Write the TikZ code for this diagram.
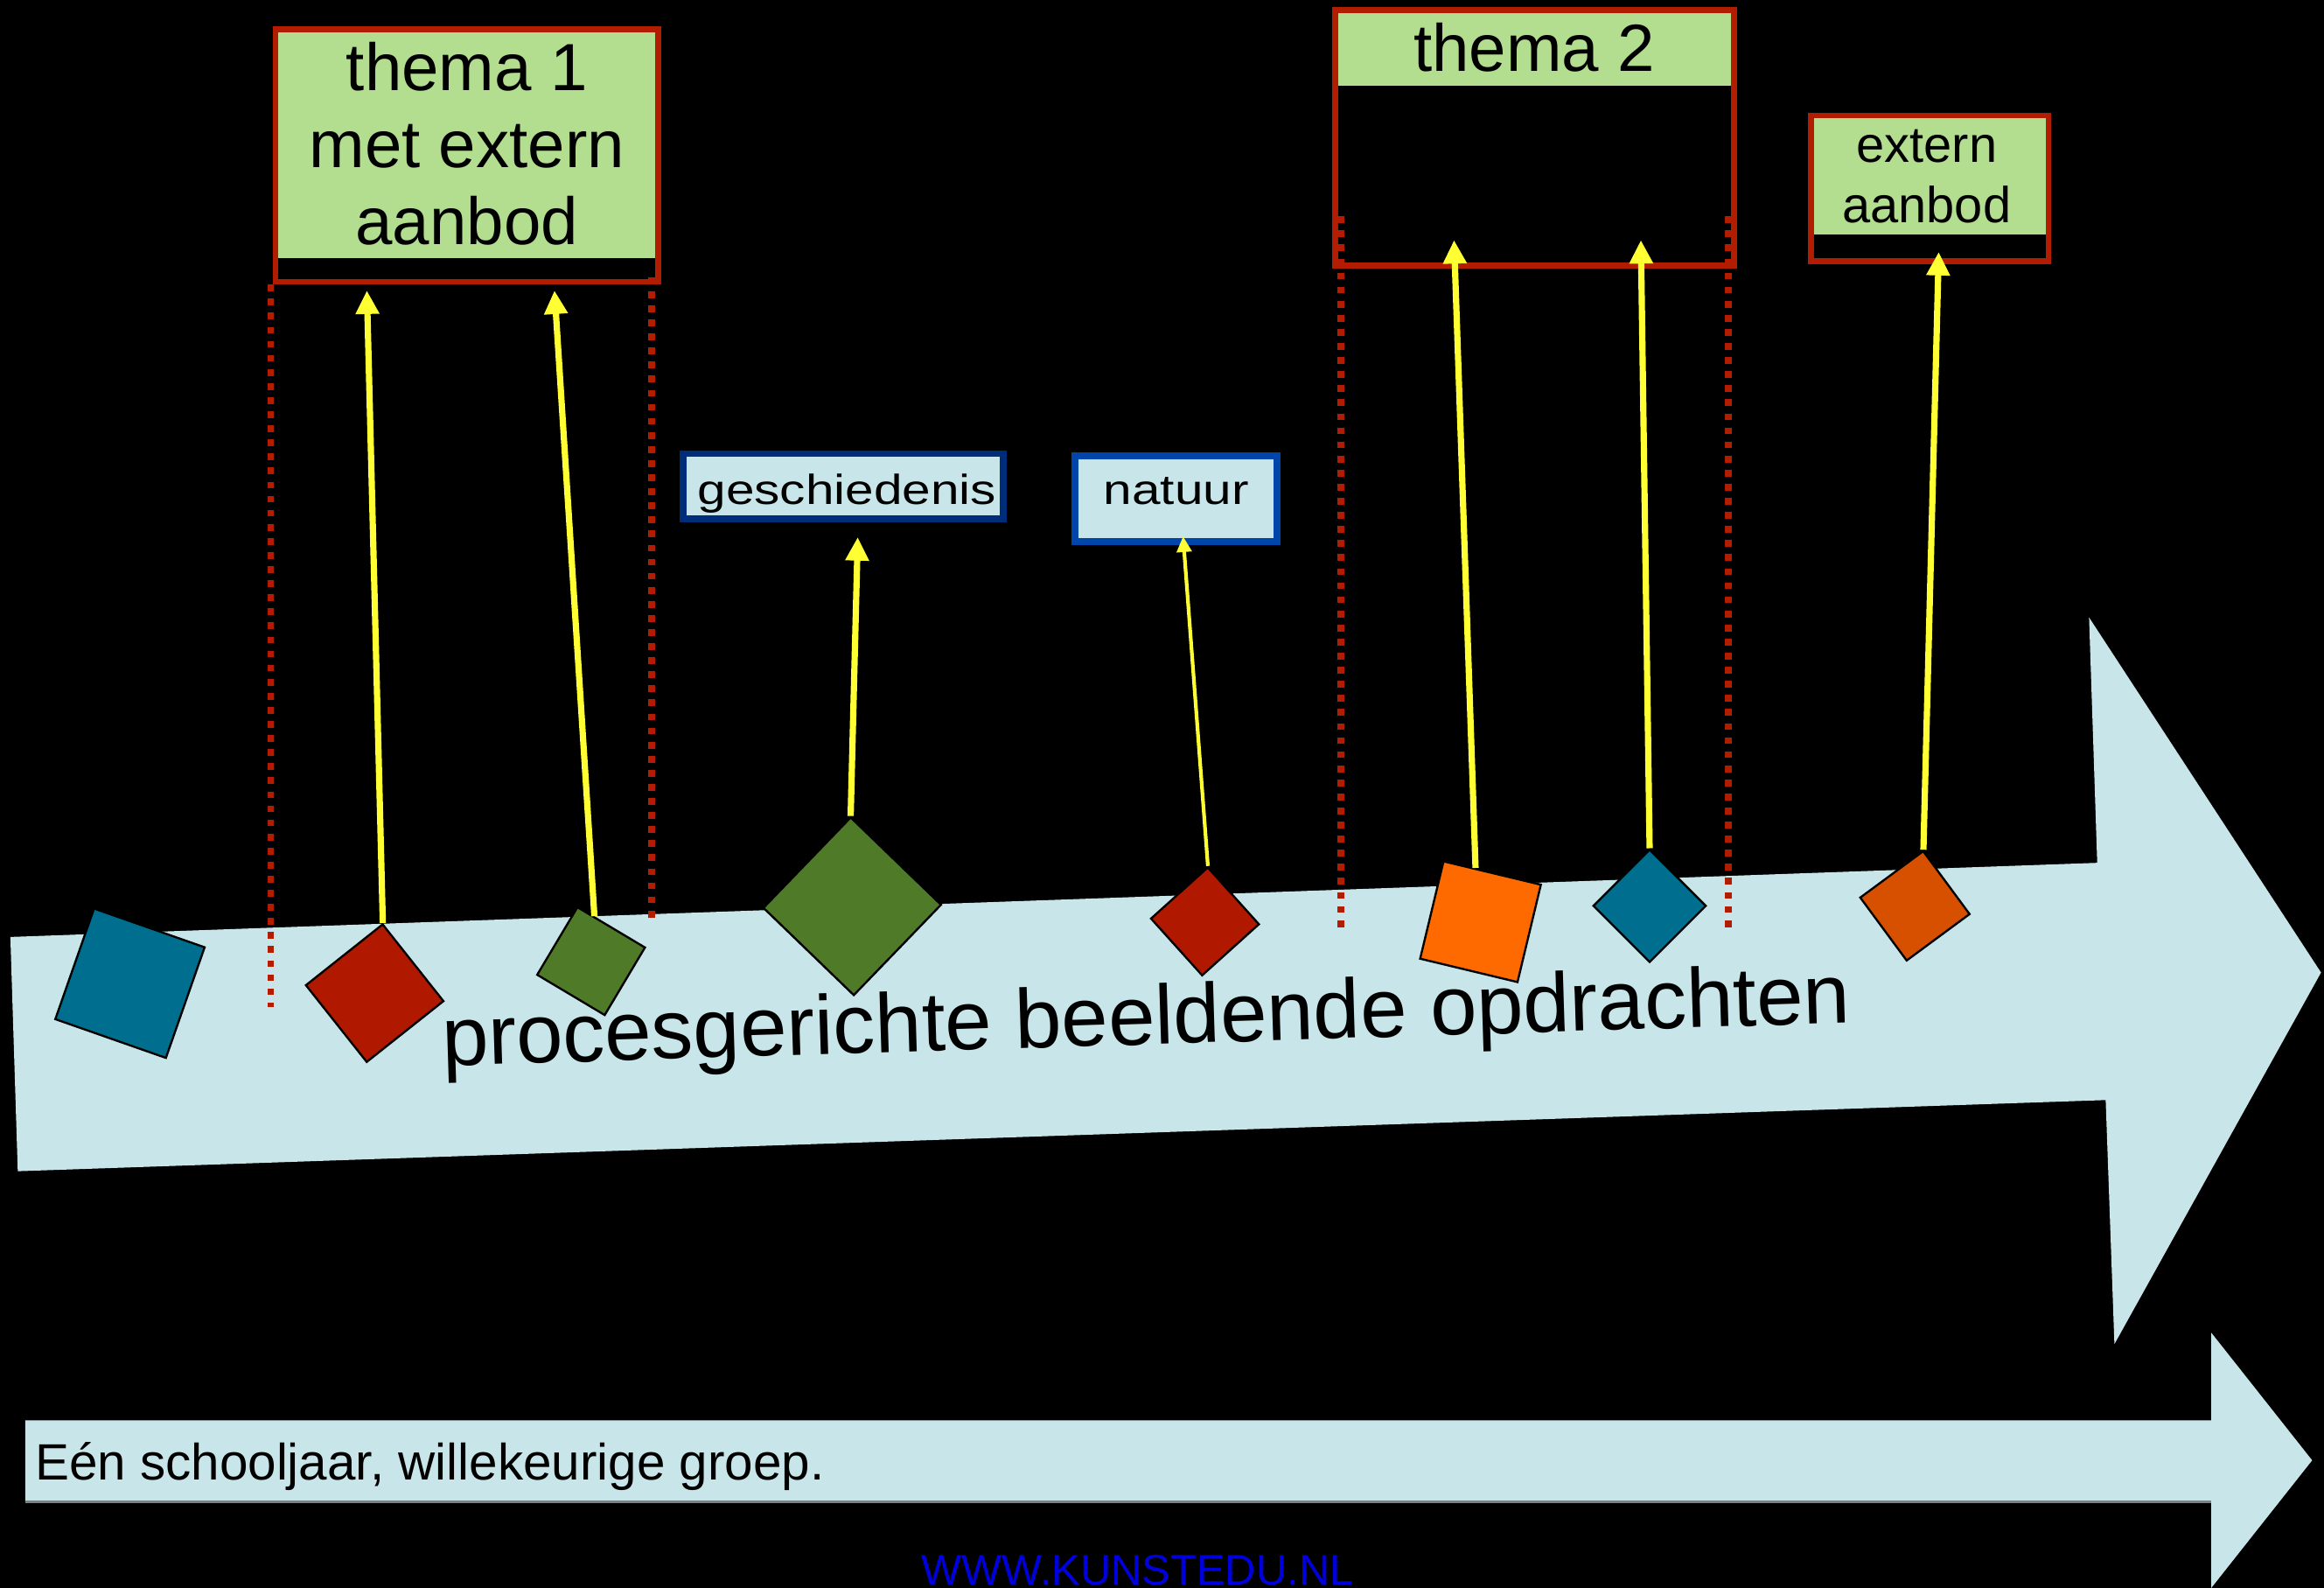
\documentclass[tikz,border=0pt]{standalone}
\usepackage{fontspec}
\setmainfont{Liberation Sans}
\newfontfamily\breed[FakeStretch=1.22]{Liberation Sans}
\usetikzlibrary{arrows.meta,calc}

\definecolor{lichtblauw}{HTML}{C8E6E9}
\definecolor{lichtgroen}{HTML}{B3DE8F}
\definecolor{kaderrood}{HTML}{B21C00}
\definecolor{navy}{HTML}{002D7A}
\definecolor{koningsblauw}{HTML}{0046AA}
\definecolor{petrol}{HTML}{006E8E}
\definecolor{steenrood}{HTML}{B01800}
\definecolor{mosgroen}{HTML}{4F7A28}
\definecolor{oranje}{HTML}{FF6A00}
\definecolor{roestoranje}{HTML}{D65000}
\definecolor{geel}{HTML}{FFFF33}
\definecolor{linkblauw}{HTML}{0000DD}

\tikzset{
  vierkant/.style={draw=black, line width=0.4pt, inner sep=0pt, minimum size=#1},
  themakader/.style={draw=kaderrood, line width=1.1pt, inner sep=0pt,
    path picture={\fill[lichtgroen] (path picture bounding box.north west)
      rectangle ([yshift=#1]path picture bounding box.south east);}},
  vakkader/.style={draw=#1, line width=1.3pt, fill=lichtblauw, inner sep=0pt},
  pijl/.style={draw=geel, line width=1.2pt, -{Triangle[width=4.3pt,length=4.5pt]}},
  stippel/.style={draw=kaderrood, line width=1.3pt, dash pattern=on 1.3pt off 1.4pt},
}

\begin{document}
\begin{tikzpicture}[x=0.01cm,y=-0.01cm]
\useasboundingbox (0,0) rectangle (1568,1071);
\fill[black] (0,0) rectangle (1568,1071);

% Big arrow and year arrow
\fill[lichtblauw] (7,632) -- (1415,582) -- (1409.5,416.5) -- (1566,656)
  -- (1426.6,906.6) -- (1420.7,742) -- (12,790) -- cycle;
\fill[lichtblauw] (17,958) -- (1492,958) -- (1492,899) -- (1560,985)
  -- (1492,1071) -- (1492,1013) -- (17,1013) -- cycle;
\draw[gray, line width=0.5pt] (17,1013) -- (1492,1013);

% Theme boxes
\node[themakader=0.16cm, minimum width=2.58cm, minimum height=1.70cm] (thema1) at (315,105) {};
\node[themakader=1.21cm, minimum width=2.69cm, minimum height=1.72cm] (thema2) at (1035.5,93) {};
\node[themakader=0.18cm, minimum width=1.60cm, minimum height=0.98cm] (extern) at (1302,127) {};
\node[vakkader=navy, minimum width=2.16cm, minimum height=0.44cm] (geschiedenis) at (569,328) {};
\node[vakkader=koningsblauw, minimum width=1.36cm, minimum height=0.58cm] (natuur) at (793.5,336.5) {};

% Dotted borders of the themes
\draw[stippel] ([xshift=-0.013cm]thema1.south west) -- ++(0,487);
\draw[stippel] ([xshift=-0.065cm,yshift=0.05cm]thema1.south east) -- ++(0,434);
\draw[stippel] ([xshift=0.057cm,yshift=0.35cm]thema2.south west) -- ++(0,484);
\draw[stippel] ([xshift=-0.06cm,yshift=0.35cm]thema2.south east) -- ++(0,482);

% Labels
\node[font=\fontsize{12.8}{14.8}\selectfont, align=center] (thema1tekst) at (315,97) {thema 1\\met extern\\aanbod};
\node[font=\fontsize{12.8}{14.8}\selectfont] (thema2tekst) at (1035,32) {thema 2};
\node[font=\fontsize{9.7}{11.5}\selectfont, align=center] (externtekst) at (1300,119) {extern\\aanbod};
\node[font=\breed\fontsize{8.05}{9}\selectfont, anchor=base] (geschtekst) at (571.5,340) {geschiedenis};
\node[font=\breed\fontsize{8.05}{9}\selectfont, anchor=base] (natuurtekst) at (793.6,340) {natuur};
\node[font=\fontsize{16.1}{19}\selectfont, anchor=base west, rotate=1.75, inner sep=0pt] (procestekst) at (298,719) {procesgerichte beeldende opdrachten};
\node[font=\fontsize{9.8}{12}\selectfont, anchor=base west, inner sep=0pt] (jaartekst) at (23,998) {Eén schooljaar, willekeurige groep.};
\node[font=\fontsize{8.2}{10}\selectfont, text=linkblauw, anchor=base, inner sep=0pt] (url) at (767.5,1069) {\underline{WWW.KUNSTEDU.NL}};

% Assignments
\node[vierkant=0.79cm, fill=petrol, rotate=-19.3] (opdr1) at (87.7,663.2) {};
\node[vierkant=0.66cm, fill=steenrood, rotate=-51.6] (opdr2) at (252.8,669.9) {};
\node[vierkant=0.53cm, fill=mosgroen, rotate=-30.8] (opdr3) at (398.8,648.3) {};
\node[vierkant=0.847cm, fill=mosgroen, rotate=-44] (opdr4) at (575,611.3) {};
\node[vierkant=0.515cm, fill=steenrood, rotate=-48] (opdr5) at (813,621.5) {};
\node[vierkant=0.675cm, fill=oranje, rotate=-13.5] (opdr6) at (998.9,621.7) {};
\node[vierkant=0.535cm, fill=petrol, rotate=-45] (opdr7) at (1113,611) {};
\node[vierkant=0.527cm, fill=roestoranje, rotate=-53.6] (opdr8) at (1292,611) {};

% Links to themes and subjects
\draw[pijl] (opdr2.north west) -- ([xshift=0.635cm,yshift=-0.04cm]thema1.south west);
\draw[pijl] ($(opdr3.north west)!0.25!(opdr3.north east)$) -- ([xshift=1.9cm,yshift=-0.04cm]thema1.south west);
\draw[pijl] (opdr4.north west) -- ([xshift=1.2cm,yshift=-0.1cm]geschiedenis.south west);
\draw[pijl, line width=0.7pt, -{Triangle[width=2.8pt,length=3pt]}] (opdr5.north west) -- ([xshift=0.75cm,yshift=0.06cm]natuur.south west);
\draw[pijl] ($(opdr6.north west)!0.33!(opdr6.north east)$) -- ([xshift=0.82cm,yshift=0.19cm]thema2.south west);
\draw[pijl] (opdr7.north west) -- ([xshift=2.08cm,yshift=0.19cm]thema2.south west);
\draw[pijl] (opdr8.north west) -- ([xshift=0.88cm,yshift=0.08cm]extern.south west);
\end{tikzpicture}
\end{document}
